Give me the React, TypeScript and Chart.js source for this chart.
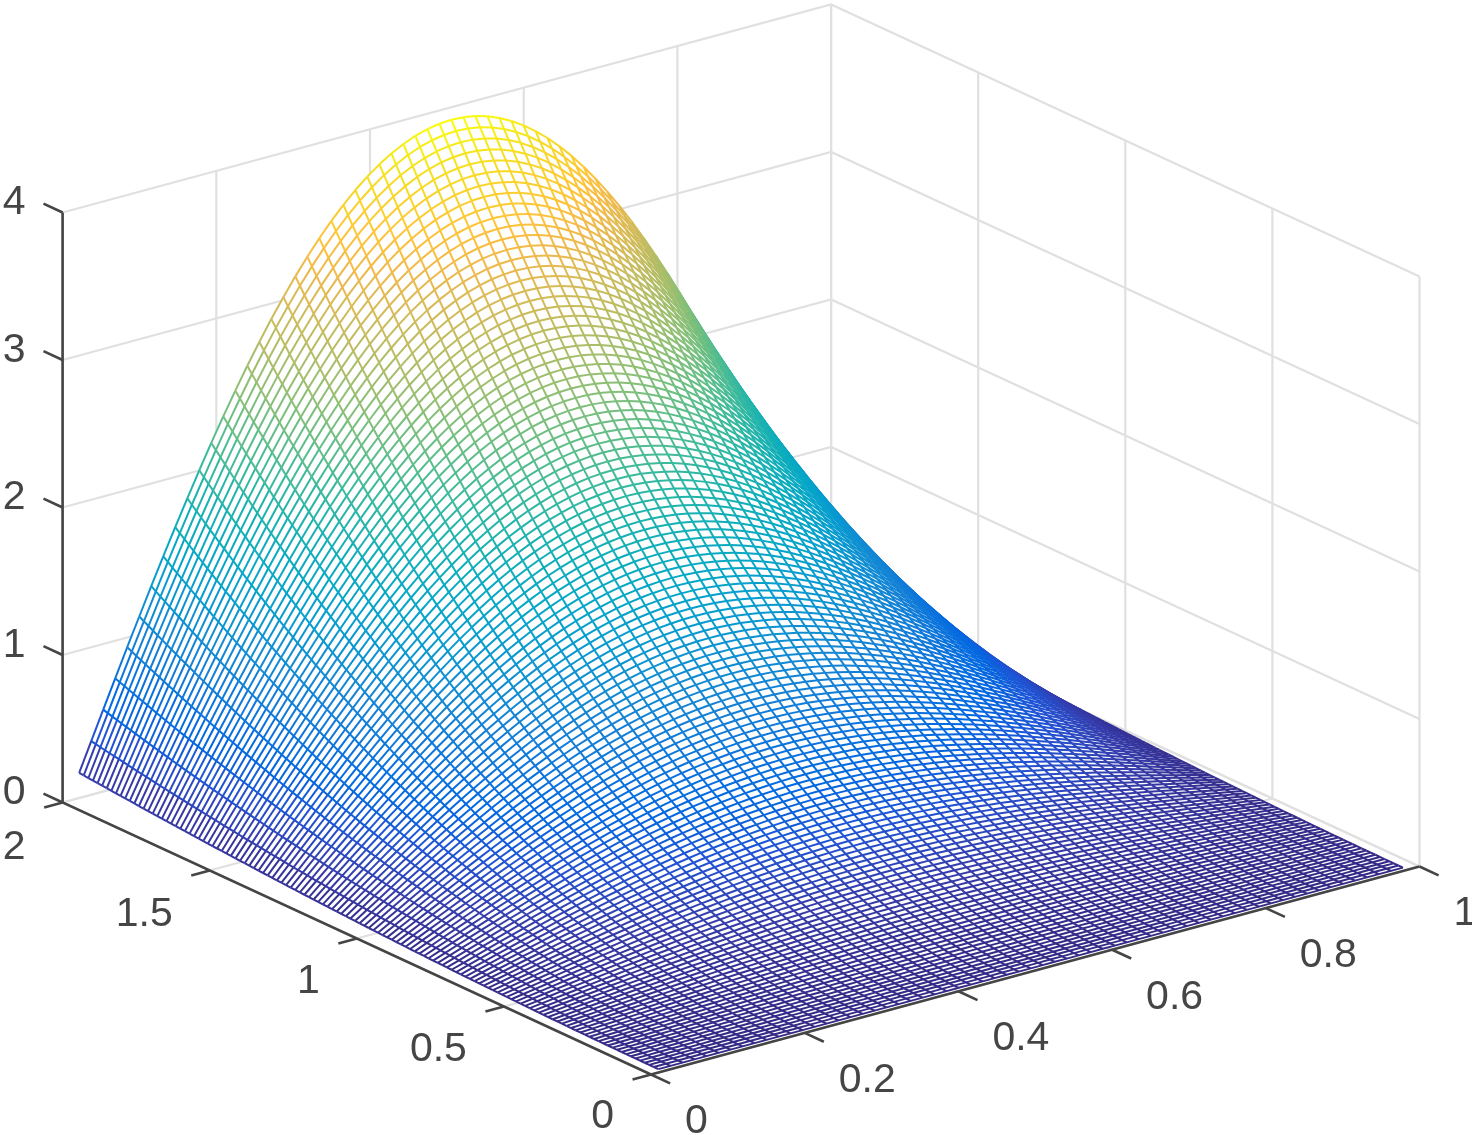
import { useEffect, useRef } from "react";
import { Chart, registerables } from "chart.js";

Chart.register(...registerables);

// Mesh lines: position along each horizontal axis.
const xGrid = [0.0156,0.0313,0.0469,0.0625,0.0781,0.0938,0.1094,0.125,0.1406,0.1563,0.1719,0.1875,0.2031,0.2188,0.2344,0.25,0.2656,0.2813,0.2969,0.3125,0.3281,0.3438,0.3594,0.375,0.3906,0.4063,0.4219,0.4375,0.4531,0.4688,0.4844,0.5,0.5156,0.5313,0.5469,0.5625,0.5781,0.5938,0.6094,0.625,0.6406,0.6563,0.6719,0.6875,0.7031,0.7188,0.7344,0.75,0.7656,0.7813,0.7969,0.8125,0.8281,0.8438,0.8594,0.875,0.8906,0.9063,0.9219,0.9375,0.9531,0.9688,0.9844];
const yGrid = [0.0156,0.0313,0.0469,0.0625,0.0781,0.0938,0.1094,0.125,0.1406,0.1563,0.1719,0.1875,0.2031,0.2188,0.2344,0.25,0.2656,0.2813,0.2969,0.3125,0.3281,0.3438,0.3594,0.375,0.3906,0.4063,0.4219,0.4375,0.4531,0.4688,0.4844,0.5,0.5156,0.5313,0.5469,0.5625,0.5781,0.5938,0.6094,0.625,0.6406,0.6563,0.6719,0.6875,0.7031,0.7188,0.7344,0.75,0.7656,0.7813,0.7969,0.8125,0.8281,0.8438,0.8594,0.875,0.8906,0.9063,0.9219,0.9375,0.9531,0.9688,0.9844,1,1.0156,1.0313,1.0469,1.0625,1.0781,1.0938,1.1094,1.125,1.1406,1.1563,1.1719,1.1875,1.2031,1.2188,1.2344,1.25,1.2656,1.2813,1.2969,1.3125,1.3281,1.3438,1.3594,1.375,1.3906,1.4063,1.4219,1.4375,1.4531,1.4688,1.4844,1.5,1.5156,1.5313,1.5469,1.5625,1.5781,1.5938,1.6094,1.625,1.6406,1.6563,1.6719,1.6875,1.7031,1.7188,1.7344,1.75,1.7656,1.7813,1.7969,1.8125,1.8281,1.8438,1.8594,1.875,1.8906,1.9063,1.9219,1.9375,1.9531,1.9688,1.9844];
// Height profile across x (relative to the ridge) and ridge height at each y.
const xProfile = [0.0491,0.098,0.1467,0.1951,0.243,0.2903,0.3369,0.3827,0.4276,0.4714,0.5141,0.5556,0.5957,0.6344,0.6716,0.7071,0.741,0.773,0.8032,0.8315,0.8577,0.8819,0.904,0.9239,0.9415,0.9569,0.97,0.9808,0.9892,0.9952,0.9988,1,0.9988,0.9952,0.9892,0.9808,0.97,0.9569,0.9415,0.9239,0.904,0.8819,0.8577,0.8315,0.8032,0.773,0.741,0.7071,0.6716,0.6344,0.5957,0.5556,0.5141,0.4714,0.4276,0.3827,0.3369,0.2903,0.243,0.1951,0.1467,0.098,0.0491];
const yRidge = [0.0002,0.001,0.0022,0.0039,0.0061,0.0088,0.012,0.0156,0.0198,0.0244,0.0295,0.0352,0.0413,0.0479,0.0549,0.0625,0.0706,0.0791,0.0881,0.0977,0.1077,0.1182,0.1292,0.1406,0.1526,0.165,0.178,0.1914,0.2053,0.2197,0.2346,0.25,0.2659,0.2822,0.2991,0.3164,0.3342,0.3525,0.3713,0.3906,0.4104,0.4307,0.4514,0.4727,0.4944,0.5166,0.5393,0.5625,0.5862,0.6104,0.635,0.6602,0.6858,0.7119,0.7385,0.7656,0.7932,0.8213,0.8499,0.8789,0.9084,0.9385,0.969,1,1.0315,1.0635,1.0959,1.1289,1.1624,1.1963,1.2307,1.2656,1.301,1.3369,1.3733,1.4102,1.4475,1.4854,1.5237,1.5625,1.6018,1.6416,1.6819,1.7227,1.7639,1.8057,1.848,1.8906,1.9338,1.9775,2.0217,2.0664,2.1116,2.1572,2.2034,2.25,2.2971,2.3447,2.3928,2.4414,2.4905,2.54,2.5901,2.6406,2.6917,2.7432,2.7952,2.8477,2.9006,2.9541,3.0081,3.0625,3.1174,3.1729,3.2288,3.2852,3.342,3.3994,3.4573,3.5156,3.5745,3.6338,3.6936,3.7539,3.8147,3.876,3.9377];

const xTicks = [0, 0.2, 0.4, 0.6, 0.8, 1];
const xTickLabels = ["0", "0.2", "0.4", "0.6", "0.8", "1"];
const yTicks = [0, 0.5, 1, 1.5, 2];
const yTickLabels = ["0", "0.5", "1", "1.5", "2"];
const zTicks = [0, 1, 2, 3, 4];
const zTickLabels = ["0", "1", "2", "3", "4"];

const parula = [[53,42,135],[53,61,173],[32,83,212],[2,104,225],[13,117,220],[20,129,214],[16,142,210],[7,156,207],[6,167,198],[15,174,185],[37,181,169],[66,187,152],[101,190,134],[135,191,119],[165,190,107],[192,188,96],[217,186,86],[241,185,74],[255,195,55],[249,211,42],[245,228,29],[249,251,14]];

const GRID = "#e0e0e0";
const AXIS = "#454545";
const FONT = '41px "Liberation Sans"';
const MESH_WIDTH = 2;
const AXIS_WIDTH = 2.6;
const GRID_WIDTH = 2.2;

const XMAX = 1, YMAX = 2, ZMAX = 4;

function project(x: number, y: number, z: number) {
  return { x: 651 + 768.5 * x - 294.2 * y, y: 1074.5 - 208 * x - 136 * y - 147.5 * z };
}

function colorFor(z: number) {
  const t = Math.min(1, Math.max(0, z / 3.94)) * (parula.length - 1);
  const i = Math.min(parula.length - 2, Math.floor(t));
  const f = t - i;
  const c = parula[i].map((v, k) => Math.round(v + (parula[i + 1][k] - v) * f));
  return `rgb(${c[0]},${c[1]},${c[2]})`;
}

const plain = { pointRadius: 0, pointHoverRadius: 0, showLine: true, tension: 0, fill: false, clip: false, spanGaps: false };

function stroke(data: any[], color: string, width: number) {
  return { ...plain, data, borderColor: color, borderWidth: width, borderCapStyle: "butt" };
}

function buildDatasets() {
  const out: any[] = [];
  const z0 = 0;
  // grid on the floor and the two back walls
  for (const x of xTicks) {
    out.push(stroke([project(x, 0, z0), project(x, YMAX, z0), project(x, YMAX, ZMAX)], GRID, GRID_WIDTH));
  }
  for (const y of yTicks) {
    out.push(stroke([project(0, y, z0), project(XMAX, y, z0), project(XMAX, y, ZMAX)], GRID, GRID_WIDTH));
  }
  for (const z of zTicks) {
    out.push(stroke([project(0, YMAX, z), project(XMAX, YMAX, z), project(XMAX, 0, z)], GRID, GRID_WIDTH));
  }
  // axes and tick marks
  out.push(stroke([project(0, 0, 0), project(XMAX, 0, 0)], AXIS, AXIS_WIDTH));
  out.push(stroke([project(0, 0, 0), project(0, YMAX, 0), project(0, YMAX, ZMAX)], AXIS, AXIS_WIDTH));
  for (const x of xTicks) out.push(stroke([project(x, 0, 0), project(x, -0.065, 0)], AXIS, AXIS_WIDTH));
  for (const y of yTicks) out.push(stroke([project(0, y, 0), project(-0.024, y, 0)], AXIS, AXIS_WIDTH));
  for (const z of zTicks) out.push(stroke([project(0, YMAX, z), project(0, YMAX + 0.065, z)], AXIS, AXIS_WIDTH));

  // mesh: white strips from the far side to the near side, so near parts hide far ones
  const rowPts = (j: number) => xGrid.map((x, i) => project(x, yGrid[j], xProfile[i] * yRidge[j]));
  const rowLine = (j: number) => {
    const cols = xGrid.map((_, i) => colorFor(xProfile[i] * yRidge[j]));
    return {
      ...stroke(rowPts(j), cols[0], MESH_WIDTH),
      segment: { borderColor: (c: any) => cols[c.p0DataIndex] },
    };
  };
  for (let j = yGrid.length - 2; j >= 0; j--) {
    out.push({
      ...plain,
      data: [...rowPts(j + 1), ...rowPts(j).reverse()],
      fill: "shape",
      backgroundColor: "#ffffff",
      borderWidth: 0,
      borderColor: "rgba(0,0,0,0)",
    });
    out.push(rowLine(j + 1));
    const cross: any[] = [];
    const crossCols: string[] = [];
    xGrid.forEach((x, i) => {
      cross.push(project(x, yGrid[j + 1], xProfile[i] * yRidge[j + 1]));
      crossCols.push(colorFor(xProfile[i] * yRidge[j + 1]));
      cross.push(project(x, yGrid[j], xProfile[i] * yRidge[j]));
      crossCols.push(colorFor(xProfile[i] * yRidge[j]));
      cross.push({ x: null, y: null });
      crossCols.push("#000");
    });
    out.push({
      ...stroke(cross, crossCols[0], MESH_WIDTH),
      segment: { borderColor: (c: any) => crossCols[c.p0DataIndex] },
    });
  }
  out.push(rowLine(0));
  // Chart.js paints the first dataset last, so the list is flipped.
  return out.reverse();
}

const tickText = {
  id: "tickText",
  afterDatasetsDraw(chart: any) {
    const { ctx, scales } = chart;
    const put = (text: string, p: { x: number; y: number }, dx: number, dy: number, align: CanvasTextAlign) => {
      ctx.textAlign = align;
      ctx.fillText(text, scales.x.getPixelForValue(p.x) + dx, scales.y.getPixelForValue(p.y) + dy);
    };
    ctx.save();
    ctx.font = FONT;
    ctx.fillStyle = AXIS;
    ctx.textBaseline = "middle";
    xTicks.forEach((x, i) => put(xTickLabels[i], project(x, 0, 0), 34, 47.5, "left"));
    yTicks.forEach((y, i) => put(yTickLabels[i], project(0, y, 0), -37, 42 + y * 1.5, "right"));
    zTicks.forEach((z, i) => put(zTickLabels[i], project(0, YMAX, z), -37, -9.5, "right"));
    ctx.restore();
  },
};

export default function App() {
  const ref = useRef<HTMLCanvasElement>(null);
  useEffect(() => {
    document.body.style.margin = "0";
    const chart = new Chart(ref.current as HTMLCanvasElement, {
      type: "scatter",
      data: { datasets: buildDatasets() },
      options: {
        animation: false,
        responsive: false,
        events: [],
        layout: { padding: 0 },
        scales: {
          x: { type: "linear", min: 0, max: 1472, display: false },
          y: { type: "linear", min: 0, max: 1135, reverse: true, display: false },
        },
        plugins: { legend: { display: false }, tooltip: { enabled: false }, title: { display: false } },
      },
      plugins: [tickText],
    } as any);
    return () => chart.destroy();
  }, []);
  return <canvas ref={ref} width={1472} height={1135} style={{ display: "block", background: "#fff" }} />;
}
